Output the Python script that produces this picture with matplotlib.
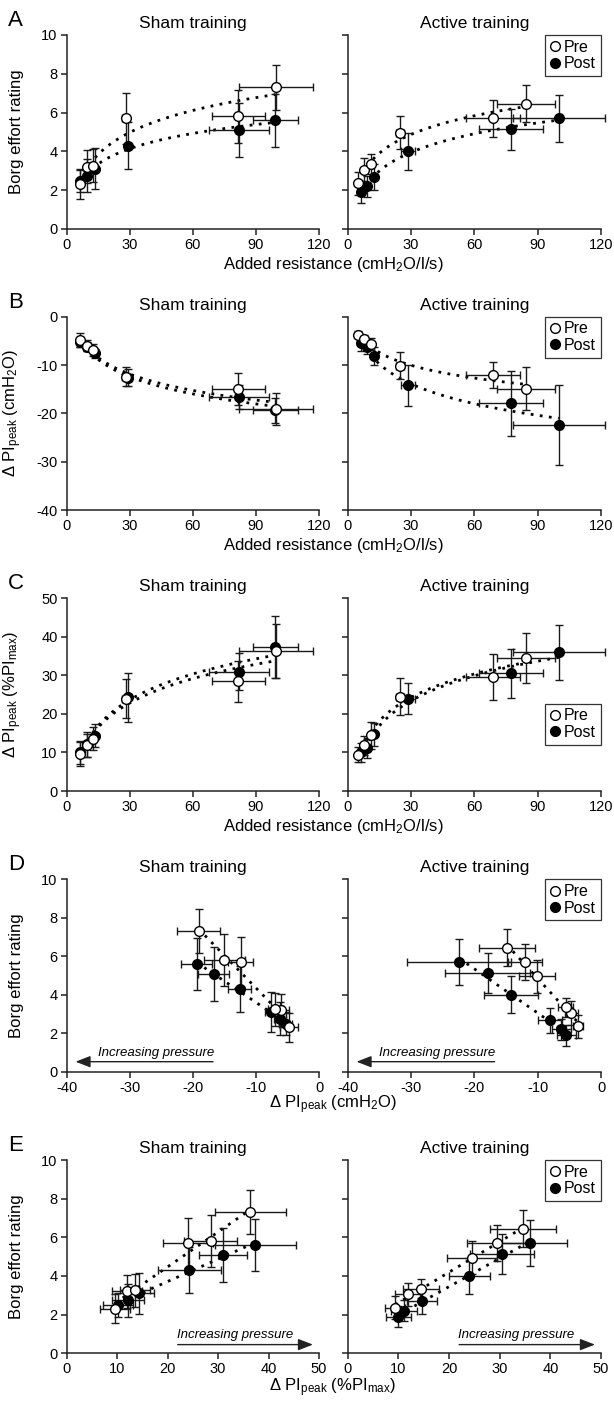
import numpy as np
import matplotlib
matplotlib.use('Agg')
import matplotlib.pyplot as plt

plt.rcParams['font.family'] = ['Liberation Sans', 'DejaVu Sans']
plt.rcParams['mathtext.fontset'] = 'custom'
plt.rcParams['mathtext.rm'] = 'Liberation Sans'
plt.rcParams['mathtext.it'] = 'Liberation Sans:italic'
plt.rcParams['axes.unicode_minus'] = False

# values (mean and error)
# Sham training, pre
sham_pre_res = [6.5, 9.5, 12.5, 28.0, 81.6, 99.4]
sham_pre_res_err = [1.0, 1.0, 1.0, 1.5, 12.7, 17.6]
sham_pre_borg = [2.3, 3.2, 3.25, 5.7, 5.8, 7.3]
sham_pre_borg_err = [0.75, 0.85, 0.85, 1.3, 1.35, 1.15]
sham_pre_cm = [-4.8, -6.0, -6.9, -12.4, -15.0, -19.1]
sham_pre_cm_err = [1.4, 1.2, 1.2, 2.0, 3.3, 3.4]
sham_pre_pct = [9.6, 11.9, 13.6, 24.0, 28.5, 36.4]
sham_pre_pct_err = [3.0, 3.0, 3.0, 5.0, 5.3, 7.0]

# Sham training, post
sham_post_res = [6.5, 9.5, 13.5, 29.0, 81.9, 99.2]
sham_post_res_err = [1.0, 1.0, 1.0, 1.5, 14.1, 10.7]
sham_post_borg = [2.5, 2.75, 3.1, 4.3, 5.1, 5.6]
sham_post_borg_err = [0.6, 0.85, 1.05, 1.2, 1.4, 1.35]
sham_post_cm = [-5.3, -6.2, -7.6, -12.6, -16.7, -19.4]
sham_post_cm_err = [1.0, 1.0, 1.0, 1.8, 2.5, 2.5]
sham_post_pct = [10.1, 12.1, 14.3, 24.3, 31.0, 37.4]
sham_post_pct_err = [3.0, 3.2, 3.0, 6.3, 4.7, 8.0]

# Active training, pre
act_pre_res = [5.1, 7.9, 11.1, 24.8, 68.7, 84.5]
act_pre_res_err = [0.8, 1.0, 1.0, 2.0, 12.7, 13.9]
act_pre_borg = [2.35, 3.05, 3.35, 4.95, 5.7, 6.45]
act_pre_borg_err = [0.6, 0.6, 0.5, 0.85, 0.95, 0.95]
act_pre_cm = [-3.7, -4.7, -5.6, -10.1, -12.0, -14.9]
act_pre_cm_err = [0.8, 1.0, 1.2, 2.8, 2.7, 4.4]
act_pre_pct = [9.4, 11.85, 14.5, 24.5, 29.5, 34.6]
act_pre_pct_err = [2.0, 2.5, 3.5, 4.9, 6.0, 6.5]

# Active training, post
act_post_res = [6.3, 9.2, 12.6, 28.6, 77.3, 100.0]
act_post_res_err = [1.0, 1.0, 1.0, 3.5, 15.3, 21.7]
act_post_borg = [1.9, 2.2, 2.68, 4.0, 5.13, 5.7]
act_post_borg_err = [0.55, 0.55, 0.65, 0.95, 1.05, 1.2]
act_post_cm = [-5.5, -6.3, -8.1, -14.2, -17.9, -22.4]
act_post_cm_err = [1.5, 1.5, 1.9, 4.2, 6.7, 8.2]
act_post_pct = [10.0, 11.1, 14.7, 24.0, 30.5, 36.0]
act_post_pct_err = [2.5, 2.5, 3.0, 4.1, 6.3, 7.2]

groups = {
    ('sham', 'pre'): dict(res=sham_pre_res, res_err=sham_pre_res_err, borg=sham_pre_borg,
                          borg_err=sham_pre_borg_err, cm=sham_pre_cm, cm_err=sham_pre_cm_err,
                          pct=sham_pre_pct, pct_err=sham_pre_pct_err),
    ('sham', 'post'): dict(res=sham_post_res, res_err=sham_post_res_err, borg=sham_post_borg,
                           borg_err=sham_post_borg_err, cm=sham_post_cm, cm_err=sham_post_cm_err,
                           pct=sham_post_pct, pct_err=sham_post_pct_err),
    ('active', 'pre'): dict(res=act_pre_res, res_err=act_pre_res_err, borg=act_pre_borg,
                            borg_err=act_pre_borg_err, cm=act_pre_cm, cm_err=act_pre_cm_err,
                            pct=act_pre_pct, pct_err=act_pre_pct_err),
    ('active', 'post'): dict(res=act_post_res, res_err=act_post_res_err, borg=act_post_borg,
                             borg_err=act_post_borg_err, cm=act_post_cm, cm_err=act_post_cm_err,
                             pct=act_post_pct, pct_err=act_post_pct_err),
}

# rows: (letter, x key, y key, fit type, xlim, xticks, ylim, yticks, ylabel, xlabel)
rows = [
    ('A', 'res', 'borg', 'log', (0, 120), [0, 30, 60, 90, 120], (0, 10), [0, 2, 4, 6, 8, 10],
     'Borg effort rating', 'Added resistance (cmH$_\\mathregular{2}$O/l/s)'),
    ('B', 'res', 'cm', 'log', (0, 120), [0, 30, 60, 90, 120], (-40, 0), [-40, -30, -20, -10, 0],
     'Δ PI$_\\mathregular{peak}$ (cmH$_\\mathregular{2}$O)', 'Added resistance (cmH$_\\mathregular{2}$O/l/s)'),
    ('C', 'res', 'pct', 'log', (0, 120), [0, 30, 60, 90, 120], (0, 50), [0, 10, 20, 30, 40, 50],
     'Δ PI$_\\mathregular{peak}$ (%PI$_\\mathregular{max}$)', 'Added resistance (cmH$_\\mathregular{2}$O/l/s)'),
    ('D', 'cm', 'borg', 'lin', (-40, 0), [-40, -30, -20, -10, 0], (0, 10), [0, 2, 4, 6, 8, 10],
     'Borg effort rating', 'Δ PI$_\\mathregular{peak}$ (cmH$_\\mathregular{2}$O)'),
    ('E', 'pct', 'borg', 'lin', (0, 50), [0, 10, 20, 30, 40, 50], (0, 10), [0, 2, 4, 6, 8, 10],
     'Borg effort rating', 'Δ PI$_\\mathregular{peak}$ (%PI$_\\mathregular{max}$)'),
]

W, H = 614, 1403
fig = plt.figure(figsize=(W / 100, H / 100), dpi=100)

row_px = [(35, 229), (316.7, 510), (598.3, 791), (879.3, 1071.7), (1160, 1353.3)]
col_px = [(66.7, 319), (347.7, 601)]
xlabel_gap = [40, 40, 40, 37, 38]


def draw(ax, d, xk, yk, fit, filled):
    x = np.array(d[xk])
    y = np.array(d[yk])
    if fit == 'log':
        coef = np.polyfit(np.log(x), y, 1)
        xs = np.linspace(x.min(), x.max(), 120)
        ys = np.polyval(coef, np.log(xs))
    else:
        coef = np.polyfit(x, y, 1)
        xs = np.array([x.min(), x.max()])
        ys = np.polyval(coef, xs)
    ax.plot(xs, ys, color='black', ls=(0, (1, 2.3)), lw=2.0, zorder=2)
    ax.errorbar(x, y, xerr=d[xk + '_err'], yerr=d[yk + '_err'], fmt='none', ecolor='#1a1a1a',
                elinewidth=1.0, capsize=2.8, capthick=1.0, zorder=3)
    ax.plot(x, y, 'o', mfc='black' if filled else 'white', mec='black', ms=7, mew=1.0,
            zorder=4 if filled else 5)


for r, (letter, xk, yk, fit, xlim, xticks, ylim, yticks, ylabel, xlabel) in enumerate(rows):
    top, bot = row_px[r]
    for c, train in enumerate(['sham', 'active']):
        left, right = col_px[c]
        ax = fig.add_axes([left / W, 1 - bot / H, (right - left) / W, (bot - top) / H])
        for grp in ['post', 'pre']:
            draw(ax, groups[(train, grp)], xk, yk, fit, grp == 'post')
        for art in ax.lines + ax.collections:
            art.set_clip_on(False)
        ax.set_xlim(xlim)
        ax.set_ylim(ylim)
        ax.set_xticks(xticks)
        ax.set_yticks(yticks)
        for s in ['top', 'right']:
            ax.spines[s].set_visible(False)
        for s in ['left', 'bottom']:
            ax.spines[s].set_linewidth(1.1)
            ax.spines[s].set_color('#222222')
        ax.tick_params(direction='out', length=4.5, width=1.1, labelsize=10.5, pad=2,
                       color='#222222')
        if c == 0:
            ax.set_ylabel(ylabel, fontsize=12)
            ax.yaxis.set_label_coords(-0.17, 0.5)
        else:
            ax.tick_params(labelleft=False)
        ax.set_title('Sham training' if train == 'sham' else 'Active training', fontsize=12.5, pad=5)

        if train == 'active':
            loc = 'lower right' if letter == 'C' else 'upper right'
            anchor = (1.0, 0.24) if letter == 'C' else (1.0, 1.0)
            h1, = ax.plot([], [], 'o', mfc='white', mec='black', ms=7, mew=1.0)
            h2, = ax.plot([], [], 'o', mfc='black', mec='black', ms=7, mew=1.0)
            leg = ax.legend([h1, h2], ['Pre', 'Post'], loc=loc, bbox_to_anchor=anchor,
                            fontsize=11.5, frameon=True, fancybox=False, borderaxespad=0,
                            handlelength=0.6, handletextpad=0.3, borderpad=0.3,
                            labelspacing=0.1)
            leg.get_frame().set_edgecolor('black')
            leg.get_frame().set_linewidth(0.9)

        if letter == 'D':
            ax.annotate('', xy=(-38.6, 0.52), xytext=(-16.8, 0.52),
                        arrowprops=dict(arrowstyle='-|>,head_length=0.9,head_width=0.35',
                                        color='#222222', lw=1.0, shrinkA=0, shrinkB=0))
            ax.text(-25.9, 0.82, 'Increasing pressure', style='italic', fontsize=9.5,
                    ha='center', va='baseline')
        if letter == 'E':
            ax.annotate('', xy=(48.8, 0.45), xytext=(22.0, 0.45),
                        arrowprops=dict(arrowstyle='-|>,head_length=0.9,head_width=0.35',
                                        color='#222222', lw=1.0, shrinkA=0, shrinkB=0))
            ax.text(33.3, 0.78, 'Increasing pressure', style='italic', fontsize=9.5,
                    ha='center', va='baseline')

    fig.text(333 / W, 1 - (bot + xlabel_gap[r]) / H, xlabel, fontsize=12, ha='center',
             va='baseline')
    fig.text(8 / W, 1 - (top - 9) / H, letter, fontsize=16, ha='left', va='baseline')

fig.savefig('out.png', dpi=100)
